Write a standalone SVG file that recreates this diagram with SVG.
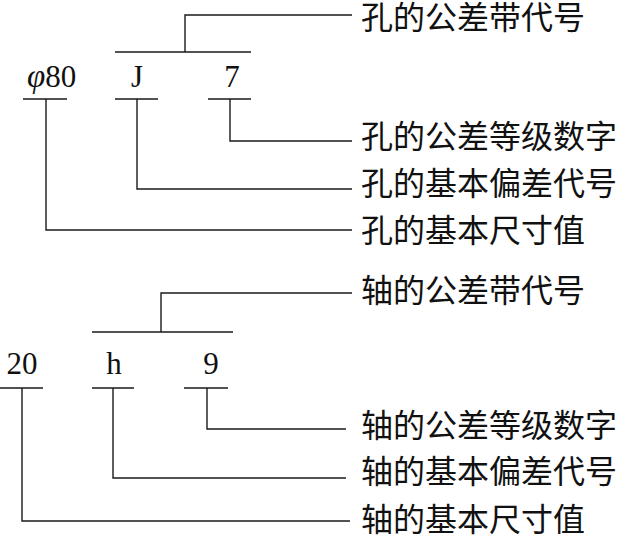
<svg xmlns="http://www.w3.org/2000/svg" width="623" height="543" viewBox="0 0 623 543">
<style>
.ln{fill:none;stroke:#1a1a1a;stroke-width:1.4}
.sym{font-family:"Liberation Serif","Times New Roman",serif;font-size:31px;fill:#111}
.lbl{font-family:"Liberation Serif","Noto Sans CJK SC",serif;font-size:32px;fill:#111}
</style>
<rect width="623" height="543" fill="#fff"/>
<g id="connectors">
<path class="ln" d="M352,15 H185 V52 M115,52 H251"/>
<path class="ln" d="M23,99 H67 M115,99 H158 M208,99 H251"/>
<path class="ln" d="M230,99 V141 H352"/>
<path class="ln" d="M137,99 V189 H352"/>
<path class="ln" d="M46,99 V230 H352"/>
<path class="ln" d="M352,293 H161 V332 M92,332 H233"/>
<path class="ln" d="M0,388 H43 M92,388 H134 M184,388 H228"/>
<path class="ln" d="M207,388 V429 H346"/>
<path class="ln" d="M113,388 V478 H346"/>
<path class="ln" d="M22,388 V521 H350"/>
</g>
<g id="hole">
<text class="sym" x="27" y="87"><tspan font-style="italic" font-size="33">φ</tspan>80</text>
<text class="sym" x="137" y="87" text-anchor="middle">J</text>
<text class="sym" x="232" y="87" text-anchor="middle">7</text>
</g>
<g id="hole-labels">
<text class="lbl" x="361" y="29">孔的公差带代号</text>
<text class="lbl" x="361" y="148">孔的公差等级数字</text>
<text class="lbl" x="361" y="195">孔的基本偏差代号</text>
<text class="lbl" x="361" y="242">孔的基本尺寸值</text>
</g>
<g id="shaft">
<text class="sym" x="22" y="374" text-anchor="middle">20</text>
<text class="sym" x="114" y="374" text-anchor="middle">h</text>
<text class="sym" x="211" y="374" text-anchor="middle">9</text>
</g>
<g id="shaft-labels">
<text class="lbl" x="361" y="302">轴的公差带代号</text>
<text class="lbl" x="361" y="437">轴的公差等级数字</text>
<text class="lbl" x="361" y="483">轴的基本偏差代号</text>
<text class="lbl" x="361" y="531">轴的基本尺寸值</text>
</g>
</svg>
